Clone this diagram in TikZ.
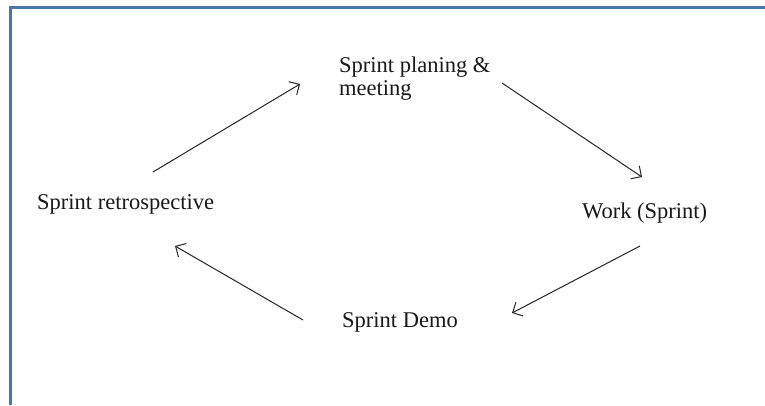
\documentclass[tikz,border=0pt]{standalone}
\usepackage{fontspec}
\setmainfont{Liberation Serif}
\usetikzlibrary{arrows.meta}
\definecolor{framecol}{RGB}{74,118,168}
\begin{document}
\begin{tikzpicture}[x=1pt,y=-1pt,
  lbl/.style={inner sep=0pt, anchor=base west, font=\fontsize{22.5}{23}\selectfont, text=black!90},
  flow/.style={draw=black!85, line width=1pt, -{Straight Barb[angle=90:11pt, line width=1pt]}}]
\useasboundingbox (0,0) rectangle (765,405);
\fill[white] (0,0) rectangle (765,405);
\draw[framecol, line width=3pt] (10.5,405) -- (10.5,7) -- (765,7);
\node[lbl] (retro) at (37,209) {Sprint retrospective};
\node[lbl, align=left] (plan) at (339,95) {Sprint planing \&\\meeting};
\node[lbl] (work) at (582,218) {Work (Sprint)};
\node[lbl] (demo) at (342,327) {Sprint Demo};
\coordinate (a1) at (153,172); \coordinate (b1) at (300,84);
\coordinate (a2) at (502,83);  \coordinate (b2) at (642,177);
\coordinate (a3) at (640,246); \coordinate (b3) at (512,313);
\coordinate (a4) at (303,320); \coordinate (b4) at (175,246);
\draw[flow] (a1) -- (b1);
\draw[flow] (a2) -- (b2);
\draw[flow] (a3) -- (b3);
\draw[flow] (a4) -- (b4);
\end{tikzpicture}
\end{document}
